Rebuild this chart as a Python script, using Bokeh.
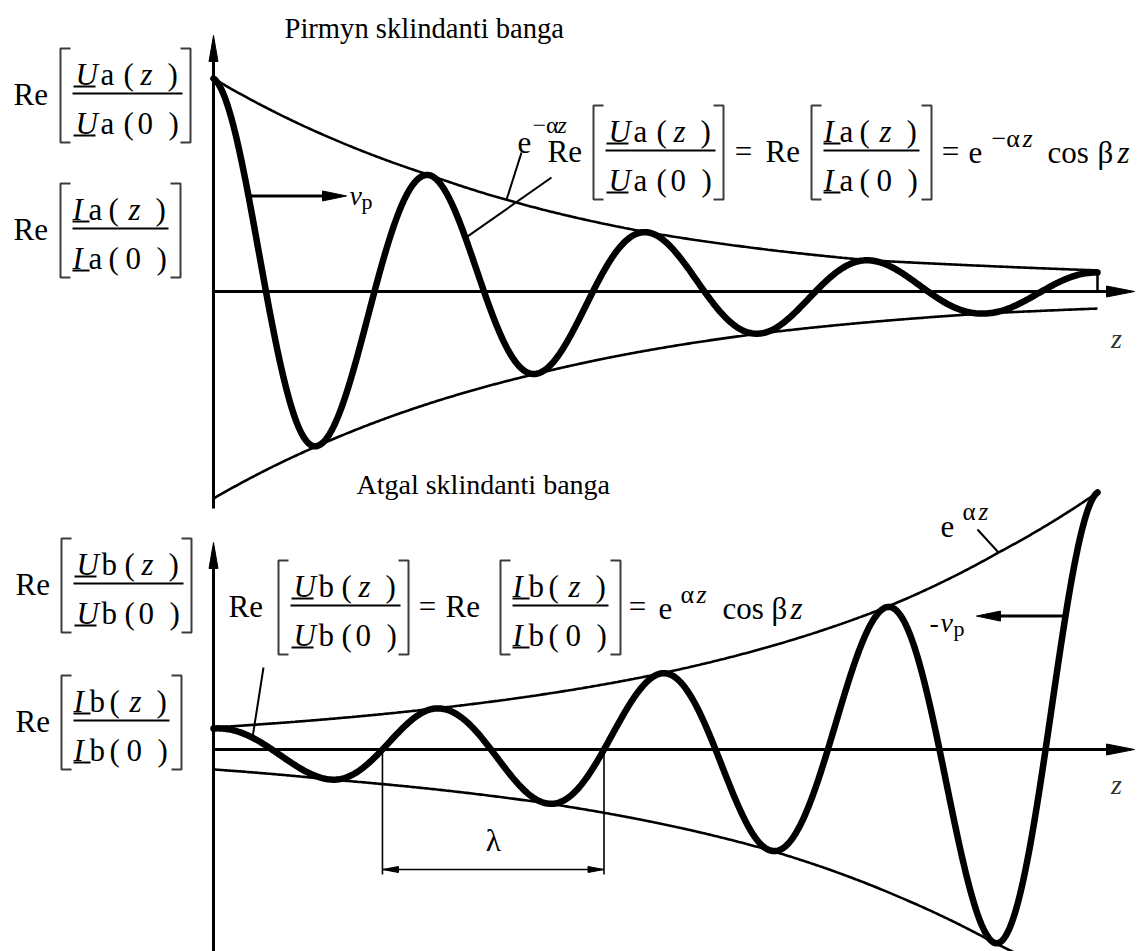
import numpy as np
from bokeh.plotting import figure
from bokeh.models import Range1d
from bokeh.core.properties import value
from bokeh.embed import file_html
from bokeh.resources import INLINE

# ---------------------------------------------------------------
# Values (z in wavelengths, wave values relative to the wave at z = 0)
# ---------------------------------------------------------------
# forward wave  Re[Ua(z)/Ua(0)] : extrema
fwd_z = [0.0, 0.475, 0.982, 1.466, 1.968, 2.475, 2.973, 3.493, 4.0]
fwd_val = [1.0, -0.723, 0.545, -0.385, 0.277, -0.197, 0.146, -0.103, 0.089]
# forward envelopes  +e^{-az}, -e^{-az}
fwd_up_z = [0.0, 0.982, 1.968, 2.973, 4.0]
fwd_up = [1.0, 0.545, 0.277, 0.146, 0.099]
fwd_lo_z = [0.0, 0.475, 1.466, 2.475, 3.493, 4.0]
fwd_lo = [-0.972, -0.723, -0.385, -0.197, -0.103, -0.080]

# backward wave  Re[Ub(z)/Ub(0)] : extrema
bwd_z = [0.0, 0.529, 1.0, 1.511, 2.023, 2.52, 3.04, 3.53, 4.0]
bwd_val = [1.0, -1.43, 1.95, -2.57, 3.62, -4.81, 6.76, -9.19, 12.24]
# backward envelopes  +e^{az}, -e^{az}
bwd_up_z = [0.0, 1.0, 2.023, 3.04, 3.552, 4.0]
bwd_up = [1.05, 1.95, 3.62, 6.76, 9.38, 12.24]
bwd_lo_z = [0.0, 0.529, 1.511, 2.52, 3.109, 3.53, 4.0]
bwd_lo = [-0.95, -1.43, -2.57, -4.81, -7.05, -9.19, -11.86]

# ---------------------------------------------------------------
# Page geometry
# ---------------------------------------------------------------
W, H = 1143, 951
ZPX = 221.0                      # pixels per wavelength
X0 = 213.0                       # page x of z = 0
TOP_Y0, TOP_S = 291.0, 213.0     # top panel: page y of axis, px per unit
BOT_Y0, BOT_S = 749.0, 21.0      # bottom panel
FONT = "Liberation Serif"
BASE_SHIFT = 0.30                # baseline correction, in em


def gx(z):
    return X0 + ZPX * np.asarray(z, dtype=float)


def gy_top(v):
    return TOP_Y0 - TOP_S * np.asarray(v, dtype=float)


def gy_bot(v):
    return BOT_Y0 - BOT_S * np.asarray(v, dtype=float)


p = figure(width=W, height=H,
           x_range=Range1d(-X0 / ZPX, (W - X0) / ZPX),
           y_range=Range1d((TOP_Y0 - H) / TOP_S, TOP_Y0 / TOP_S),
           output_backend="svg", toolbar_location=None,
           x_axis_location=None, y_axis_location=None, min_border=0)
p.extra_y_ranges = {"bot": Range1d((BOT_Y0 - H) / BOT_S, BOT_Y0 / BOT_S),
                    "py": Range1d(H, 0)}
p.extra_x_ranges = {"px": Range1d(0, W)}
p.outline_line_color = None
p.background_fill_color = "white"
p.border_fill_color = "white"
p.grid.grid_line_color = None


def wave(zs, vs, n=90):
    """Half-cosine arcs joining successive extrema, amplitude varying geometrically."""
    zz, yy = [], []
    for i in range(len(zs) - 1):
        t = np.linspace(0.0, 1.0, n)
        a0, a1 = abs(vs[i]), abs(vs[i + 1])
        amp = a0 * (a1 / a0) ** t
        zz.append(zs[i] + t * (zs[i + 1] - zs[i]))
        yy.append(np.sign(vs[i]) * amp * np.cos(np.pi * t))
    return np.concatenate(zz), np.concatenate(yy)


def envelope(zs, vs, n=500):
    zz = np.linspace(zs[0], zs[-1], n)
    mag = np.exp(np.interp(zz, zs, np.log(np.abs(vs))))
    return zz, np.sign(vs[0]) * mag


def seg(xs, ys, w=2.0, color="black"):
    p.line(list(xs), list(ys), x_range_name="px", y_range_name="py",
           line_width=w, line_color=color, line_cap="butt")


def head(tx, ty, dx, dy, L=25, hw=5):
    bx, by = tx - dx * L, ty - dy * L
    nx, ny = -dy, dx
    p.patch([tx, bx + nx * hw, bx - nx * hw], [ty, by + ny * hw, by - ny * hw],
            x_range_name="px", y_range_name="py", color="black", line_width=1)


def txt(x, y, s, size=31, style="normal", align="left", color="black"):
    """Text whose baseline sits at page y."""
    p.text(x=[x], y=[y - BASE_SHIFT * size], text=[s], x_range_name="px", y_range_name="py",
           text_font=value(FONT), text_font_size=f"{size}px",
           text_font_style=style, text_align=align,
           text_baseline="alphabetic", text_color=color)


def block(xl, ym, sym, sub, re_dx=59):
    """Re[ sym sub (z) / sym sub (0) ] with brackets, fraction line at page y = ym."""
    txt(xl - re_dx, ym + 10, "Re")
    if sym == "U":
        width, rb = 110, 118
        o = dict(sym=3, sub=28, lp=51, z=68, rp=95, zero=65, rp0=96, ul=(1, 23))
    else:
        width, rb = 96, 108
        o = dict(sym=0, sub=16, lp=36, z=56, rp=83, zero=53, rp0=84, ul=(0, 17))
    top, bot = ym - 45, ym + 49
    bc = "#3c3c3c"
    seg([xl - 2, xl - 12, xl - 12, xl - 2], [top, top, bot, bot], w=2, color=bc)
    seg([xl + rb - 10, xl + rb, xl + rb, xl + rb - 10], [top, top, bot, bot], w=2, color=bc)
    seg([xl, xl + width], [ym, ym], w=2)
    nb, db = ym - 10, ym + 39
    for b in (nb, db):
        txt(xl + o["sym"], b, sym, style="italic")
        txt(xl + o["sub"], b, sub)
        txt(xl + o["lp"], b, "(")
        seg([xl + o["ul"][0], xl + o["ul"][1]], [b + 3, b + 3], w=2)
    txt(xl + o["z"], nb, "z", style="italic")
    txt(xl + o["rp"], nb, ")")
    txt(xl + o["zero"], db, "0")
    txt(xl + o["rp0"], db, ")")


# ---------------------------------------------------------------
# Curves
# ---------------------------------------------------------------
fz, fy = wave(fwd_z, fwd_val)
bz, by_ = wave(bwd_z, bwd_val)

for zs, vs in ((fwd_up_z, fwd_up), (fwd_lo_z, fwd_lo)):
    ez, ev = envelope(zs, vs)
    p.line(ez, ev, line_width=2.6, line_color="black")
for zs, vs in ((bwd_up_z, bwd_up), (bwd_lo_z, bwd_lo)):
    ez, ev = envelope(zs, vs)
    p.line(ez, ev, line_width=2.6, line_color="black", y_range_name="bot")

p.line(fz, fy, line_width=6.5, line_color="black", line_join="round", line_cap="round")
p.line(bz, by_, line_width=6.5, line_color="black", line_join="round", line_cap="round",
       y_range_name="bot")

# ---------------------------------------------------------------
# Axes with arrow heads
# ---------------------------------------------------------------
zmax = fwd_z[-1]
seg([X0, X0], [508, 58], w=3)
head(X0, 35, 0, -1, L=26, hw=4.5)
seg([X0, 1110], [TOP_Y0, TOP_Y0], w=3)
head(1134, TOP_Y0, 1, 0, L=28, hw=5.5)
seg([gx(zmax)] * 2, [gy_top(fwd_up[-1]), TOP_Y0], w=2.5)

seg([X0, X0], [H, 565], w=3)
head(X0, 542, 0, -1, L=26, hw=4.5)
seg([X0, 1110], [BOT_Y0, BOT_Y0], w=3)
head(1134, BOT_Y0, 1, 0, L=28, hw=5.5)

txt(1116, 346, "z", size=28, style="italic", align="center", color="#333333")
txt(1116, 792, "z", size=28, style="italic", align="center", color="#333333")

# ---------------------------------------------------------------
# Titles
# ---------------------------------------------------------------
txt(284, 37, "Pirmyn sklindanti banga", size=28.6)
txt(356, 492, "Atgal sklindanti banga", size=28)

# ---------------------------------------------------------------
# Axis labels on the left
# ---------------------------------------------------------------
block(72, 93, "U", "a", re_dx=59)
block(72, 228, "I", "a", re_dx=59)
block(73, 583, "U", "b", re_dx=58)
block(73, 720, "I", "b", re_dx=58)

# ---------------------------------------------------------------
# Formulas
# ---------------------------------------------------------------
block(605, 150, "U", "a", re_dx=58)
txt(743, 160, "=", align="center")
block(823, 150, "I", "a", re_dx=58)
txt(950, 160, "=", align="center")
txt(968, 161, "e")
txt(991, 146, "\u2212\u03b1", size=26)
txt(1022, 146, "z", size=26, style="italic")
txt(1047, 161, "cos")
txt(1097, 161, "\u03b2")
txt(1117, 161, "z", style="italic")

block(290, 605, "U", "b", re_dx=62)
txt(427, 615, "=", align="center")
block(512, 605, "I", "b", re_dx=67)
txt(637, 615, "=", align="center")
txt(658, 617, "e")
txt(680, 602, "\u03b1", size=26)
txt(696, 602, "z", size=26, style="italic")
txt(722, 617, "cos")
txt(771, 617, "\u03b2")
txt(790, 617, "z", style="italic")

# envelope names
txt(517, 151, "e", size=31)
txt(532, 132, "\u2212\u03b1", size=24)
txt(557, 132, "z", size=24, style="italic")
txt(940, 535, "e", size=31)
txt(962, 518, "\u03b1", size=25)
txt(978, 518, "z", size=25, style="italic")

# ---------------------------------------------------------------
# Pointer lines
# ---------------------------------------------------------------
ez_u, ev_u = envelope(fwd_up_z, fwd_up)
zp = (506 - X0) / ZPX
seg([gx(zp), 521], [gy_top(np.interp(zp, ez_u, ev_u)), 152], w=2)

zp = (465 - X0) / ZPX
seg([gx(zp), 551], [gy_top(np.interp(zp, fz, fy)), 177], w=2)

zp = (252 - X0) / ZPX
seg([gx(zp), 263], [gy_bot(np.interp(zp, bz, by_)), 667], w=2)

ebz, ebv = envelope(bwd_up_z, bwd_up)
zp = (998 - X0) / ZPX
seg([gx(zp), 977], [gy_bot(np.interp(zp, ebz, ebv)), 529], w=2)

# ---------------------------------------------------------------
# Phase velocity arrows
# ---------------------------------------------------------------
zv = (248 - X0) / ZPX
yv = float(gy_top(np.interp(zv, fz, fy)))
seg([gx(zv), 326], [yv, yv], w=3)
head(346, yv, 1, 0, L=24, hw=5)
txt(349, yv + 8, "v", size=28, style="italic")
txt(361, yv + 12, "p", size=22)

zv = (1065 - X0) / ZPX
yv = float(gy_bot(np.interp(zv, bz, by_)))
seg([gx(zv), 996], [yv, yv], w=3)
head(976, yv, -1, 0, L=24, hw=5)
txt(929, yv + 15, "-", size=28)
txt(940, yv + 15, "v", size=28, style="italic")
txt(953, yv + 19, "p", size=22)

# ---------------------------------------------------------------
# Wavelength dimension between two zero crossings
# ---------------------------------------------------------------
zc1 = 0.5 * (bwd_z[1] + bwd_z[2])
zc2 = 0.5 * (bwd_z[3] + bwd_z[4])
x1, x2 = float(gx(zc1)), float(gx(zc2))
seg([x1, x1], [BOT_Y0, 874], w=1.6)
seg([x2, x2], [BOT_Y0, 874], w=1.6)
seg([x1, x2], [869, 869], w=1.6)
head(x1, 869, -1, 0, L=16, hw=3)
head(x2, 869, 1, 0, L=16, hw=3)
txt(0.5 * (x1 + x2), 849, "\u03bb", size=31, align="center")

open("out.html", "w").write(file_html(p, INLINE))
